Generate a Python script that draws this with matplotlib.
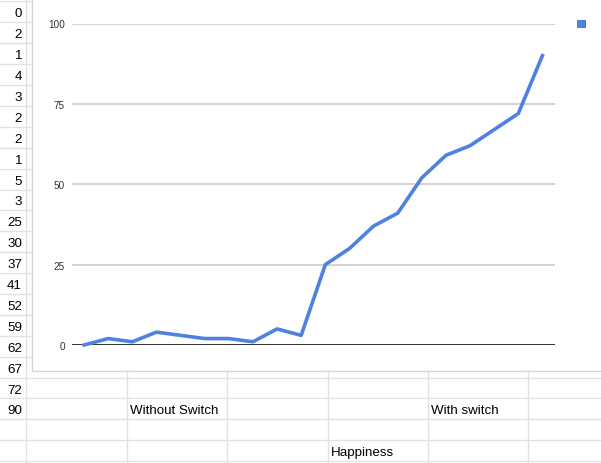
import matplotlib.pyplot as plt
from matplotlib.patches import Rectangle

plt.rcParams['font.family'] = ['Liberation Sans', 'DejaVu Sans']

# spreadsheet column A values (also the chart series)
happiness = [0, 2, 1, 4, 3, 2, 2, 1, 5, 3, 25, 30, 37, 41, 52, 59, 62, 67, 72, 90]
y_ticks = [0, 25, 50, 75, 100]
cell_texts = [("Without Switch", 1, 19), ("With switch", 4, 19), ("Happiness", 3, 21)]

W, H = 601, 464
fig = plt.figure(figsize=(W / 100, H / 100), dpi=100)

# sheet grid in pixel coordinates
bg = fig.add_axes([0, 0, 1, 1])
bg.set_xlim(0, W)
bg.set_ylim(H, 0)
bg.axis('off')

row0, row_h = 2.4, 20.9
col_x = [26, 126.7, 227.1, 327.5, 428, 528.4]
grid_c = '#e2e2e2'
for k in range(23):
    bg.axhline(row0 + row_h * k, color=grid_c, lw=1, zorder=1)
for x in col_x:
    bg.axvline(x, color=grid_c, lw=1, zorder=1)

for k, v in enumerate(happiness):
    bg.text(22, row0 + row_h * (k + 0.5) + 1.5, str(v), ha='right', va='center',
            fontsize=9.6, color='#000000', zorder=2)
for txt, c, r in cell_texts:
    bg.text(col_x[c] + 3, row0 + row_h * (r + 0.5) + 1.5, txt, ha='left', va='center',
            fontsize=9.6, color='#000000', zorder=2)

# chart box
bg.add_patch(Rectangle((32, -3), 580, 374.5, facecolor='white',
                       edgecolor='#d4d4d4', lw=1, zorder=5))
bg.add_patch(Rectangle((577.3, 20.5), 9, 8, facecolor='#4f81e3',
                       edgecolor='none', zorder=6))

ax = fig.add_axes([72 / W, (H - 346) / H, (554.5 - 72) / W, (346 - 24.5) / H])
ax.set_zorder(10)
ax.patch.set_alpha(0)
ax.plot(range(len(happiness)), happiness, color='#4f81e3', lw=2.6,
        clip_on=False, zorder=4)
ax.axhline(0, color='#333333', lw=2.1, zorder=3)
ax.set_xlim(-0.5, len(happiness) - 0.5)
ax.set_ylim(0, 100)
ax.set_yticks(y_ticks)
ax.set_xticks([])
ax.grid(axis='y', color='#cccccc', lw=1.2)
ax.tick_params(axis='y', length=0, pad=5, labelsize=7.2, labelcolor='#333333')
for s in ax.spines.values():
    s.set_visible(False)

fig.savefig('out.png', dpi=100)
